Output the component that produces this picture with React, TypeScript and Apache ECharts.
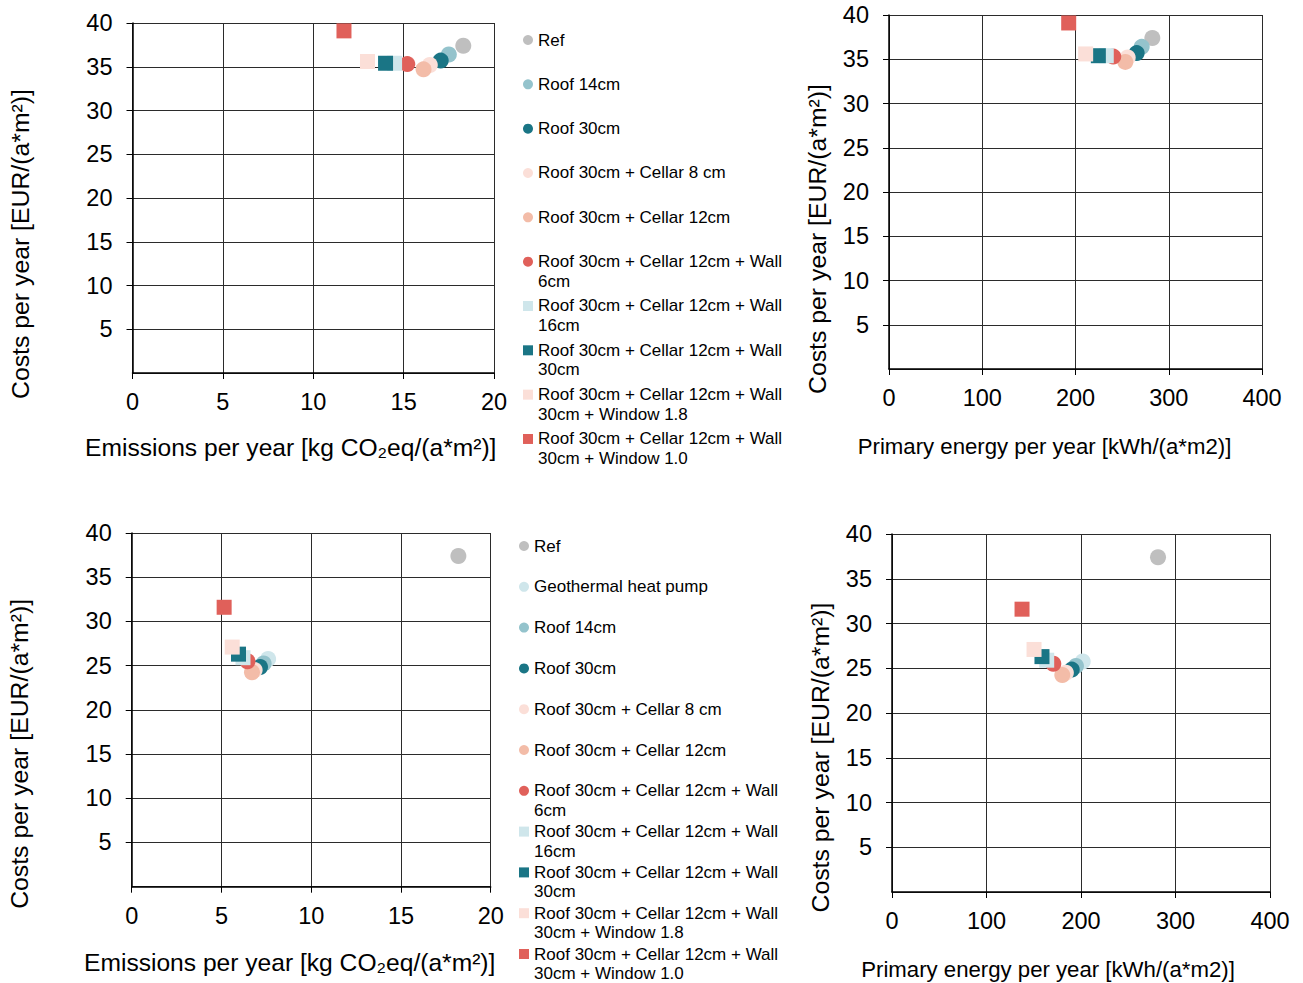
import React, { useEffect, useRef } from "react";
import * as echarts from "echarts";

// ---------- data ----------
const namesTop = [
  "Ref",
  "Roof 14cm",
  "Roof 30cm",
  "Roof 30cm + Cellar 8 cm",
  "Roof 30cm + Cellar 12cm",
  "Roof 30cm + Cellar 12cm + Wall 6cm",
  "Roof 30cm + Cellar 12cm + Wall 16cm",
  "Roof 30cm + Cellar 12cm + Wall 30cm",
  "Roof 30cm + Cellar 12cm + Wall 30cm + Window 1.8",
  "Roof 30cm + Cellar 12cm + Wall 30cm + Window 1.0",
];
const emissionsTop = [18.3, 17.5, 17.05, 16.45, 16.1, 15.2, 14.5, 14.0, 13.0, 11.7];
const energyTop = [282.4, 271, 265.6, 256, 253.4, 240.5, 233, 224.5, 210.9, 192.7];
const costsTop = [37.4, 36.4, 35.7, 35.2, 34.7, 35.3, 35.4, 35.4, 35.6, 39.1];

const namesBottom = [
  "Ref",
  "Geothermal heat pump",
  "Roof 14cm",
  "Roof 30cm",
  "Roof 30cm + Cellar 8 cm",
  "Roof 30cm + Cellar 12cm",
  "Roof 30cm + Cellar 12cm + Wall 6cm",
  "Roof 30cm + Cellar 12cm + Wall 16cm",
  "Roof 30cm + Cellar 12cm + Wall 30cm",
  "Roof 30cm + Cellar 12cm + Wall 30cm + Window 1.8",
  "Roof 30cm + Cellar 12cm + Wall 30cm + Window 1.0",
];
const emissionsBottom = [18.2, 7.6, 7.35, 7.15, 6.85, 6.7, 6.45, 6.2, 5.95, 5.6, 5.15];
const energyBottom = [281.5, 201.8, 194.7, 190.2, 184, 180.2, 170.7, 163.7, 158.7, 150.3, 137.6];
const costsBottom = [37.4, 25.75, 25.25, 24.85, 24.5, 24.25, 25.5, 25.9, 26.3, 27.1, 31.6];

const emissionTicks = [0, 20, 5];
const energyTicks = [0, 400, 100];
const costTicks = [0, 40, 5];

// ---------- styles ----------
const colorOf: Record<string, string> = {
  "Ref": "#BFBFBF",
  "Geothermal heat pump": "#CFE6EB",
  "Roof 14cm": "#94C3CC",
  "Roof 30cm": "#1A7585",
  "Roof 30cm + Cellar 8 cm": "#FBDFD8",
  "Roof 30cm + Cellar 12cm": "#F3BCA8",
  "Roof 30cm + Cellar 12cm + Wall 6cm": "#E0605A",
  "Roof 30cm + Cellar 12cm + Wall 16cm": "#CFE6EB",
  "Roof 30cm + Cellar 12cm + Wall 30cm": "#1A7585",
  "Roof 30cm + Cellar 12cm + Wall 30cm + Window 1.8": "#FBDFD8",
  "Roof 30cm + Cellar 12cm + Wall 30cm + Window 1.0": "#E0605A",
};
const isSquare = (n: string) => n.indexOf("Wall 16") >= 0 || n.indexOf("Wall 30") >= 0;
const legendLabel = (n: string) => n.replace(" + Wall ", " + Wall\n");

const FONT = "'Liberation Sans', Arial, sans-serif";

const grids = [
  { left: 132.5, top: 23, width: 361.5, height: 350 },
  { left: 889, top: 15, width: 373, height: 354 },
  { left: 131.7, top: 533, width: 359, height: 353.7 },
  { left: 892, top: 534, width: 378, height: 358 },
];

export default function App() {
  const ref = useRef<HTMLDivElement>(null);
  useEffect(() => {
    if (!ref.current) return;
    const chart = echarts.init(ref.current, undefined, { renderer: "svg" });

    const axisCommon = (ticks: number[]) => ({
      type: "value",
      min: ticks[0],
      max: ticks[1],
      interval: ticks[2],
      axisLine: { show: true, onZero: false, lineStyle: { color: "#000", width: 1.5 } },
      axisTick: { show: true, length: 6, lineStyle: { color: "#000", width: 1 } },
      splitLine: { show: true, lineStyle: { color: "#2b2b2b", width: 1 } },
      nameLocation: "middle",
    });

    const xNames = [
      "Emissions per year [kg CO\u2082eq/(a*m\u00B2)]",
      "Primary energy per year [kWh/(a*m2)]",
      "Emissions per year [kg CO\u2082eq/(a*m\u00B2)]",
      "Primary energy per year [kWh/(a*m2)]",
    ];
    const xTicks = [emissionTicks, energyTicks, emissionTicks, energyTicks];
    const xNameSize = [24.6, 22.2, 24.6, 22.2];
    const xGap = [61.8, 66, 63.4, 66];
    const xShift = [45, 62, 43, 66];
    const yGap = [100, 59, 100, 59.5];
    const yShift = [92, 94, 88, 89];
    const TICK = 23.5;

    const xAxis = grids.map((_, i) => ({
      ...axisCommon(xTicks[i]),
      gridIndex: i,
      name: xNames[i],
      nameGap: xGap[i],
      nameTextStyle: { fontSize: xNameSize[i], color: "#000", fontFamily: FONT, padding: [0, xShift[i], 0, 0] },
      axisLabel: { fontSize: TICK, color: "#000", margin: 17, fontFamily: FONT },
    }));
    const yAxis = grids.map((_, i) => ({
      ...axisCommon(costTicks),
      gridIndex: i,
      name: "Costs per year [EUR/(a*m\u00B2)]",
      nameGap: yGap[i],
      nameTextStyle: { fontSize: 24.8, color: "#000", fontFamily: FONT, padding: [0, yShift[i], 0, 0] },
      axisLabel: { fontSize: TICK, color: "#000", margin: 20, fontFamily: FONT, showMinLabel: false },
    }));

    const series: any[] = [];
    const addSeries = (names: string[], xs: number[], ys: number[], gi: number) => {
      names.forEach((n, k) => {
        series.push({
          type: "scatter",
          name: n,
          xAxisIndex: gi,
          yAxisIndex: gi,
          data: [[xs[k], ys[k]]],
          symbol: isSquare(n) ? "rect" : "circle",
          symbolSize: isSquare(n) ? 15 : 16,
          itemStyle: { color: colorOf[n], opacity: 1 },
          emphasis: { disabled: true },
        });
      });
    };
    addSeries(namesTop, emissionsTop, costsTop, 0);
    addSeries(namesTop, energyTop, costsTop, 1);
    addSeries(namesBottom, emissionsBottom, costsBottom, 2);
    addSeries(namesBottom, energyBottom, costsBottom, 3);

    const LH = 19.5;
    const legends: any[] = [];
    const addLegend = (names: string[], left: number, firstCenter: number, step: number) => {
      names.forEach((n, k) => {
        const twoLines = legendLabel(n).indexOf("\n") >= 0;
        legends.push({
          data: [{ name: n, icon: isSquare(n) ? "rect" : "circle" }],
          left,
          top: firstCenter + k * step - LH / 2 - (twoLines ? LH : 0),
          padding: 0,
          itemWidth: 10,
          itemHeight: 10,
          selectedMode: false,
          formatter: legendLabel,
          textStyle: {
            fontSize: 17,
            color: "#000",
            fontFamily: FONT,
            lineHeight: LH,
            padding: twoLines ? [LH, 0, 0, 0] : [0, 0, 0, 0],
            rich: { t: { fontSize: 17, fontFamily: FONT, color: "#000", lineHeight: LH } },
          },
        });
      });
    };
    addLegend(namesTop, 523, 40, 44.33);
    addLegend(namesBottom, 519, 546, 40.8);

    chart.setOption({
      animation: false,
      backgroundColor: "#fff",
      textStyle: { fontFamily: FONT },
      grid: grids.map((g) => ({ ...g, containLabel: false })),
      xAxis,
      yAxis,
      legend: legends,
      series,
    });
    return () => chart.dispose();
  }, []);
  return (
    <div
      ref={ref}
      style={{ position: "fixed", left: 0, top: 0, width: 1303, height: 983, background: "#fff" }}
    />
  );
}
